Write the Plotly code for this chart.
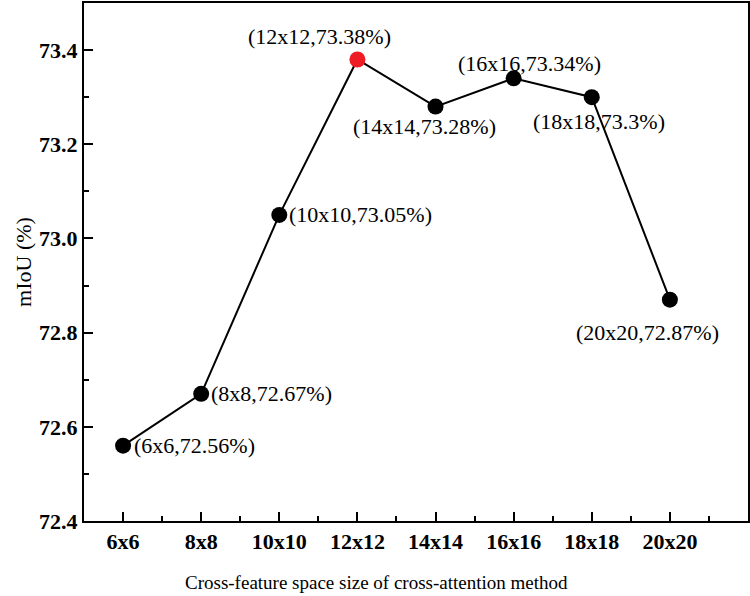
import plotly.graph_objects as go

sizes = ["6x6", "8x8", "10x10", "12x12", "14x14", "16x16", "18x18", "20x20"]
side = [6, 8, 10, 12, 14, 16, 18, 20]
miou = [72.56, 72.67, 73.05, 73.38, 73.28, 73.34, 73.30, 72.87]
labels = ["(6x6,72.56%)", "(8x8,72.67%)", "(10x10,73.05%)", "(12x12,73.38%)",
          "(14x14,73.28%)", "(16x16,73.34%)", "(18x18,73.3%)", "(20x20,72.87%)"]

best = miou.index(max(miou))
colors = ["#ee1c24" if i == best else "black" for i in range(len(miou))]

# label placement (anchor, xshift, yshift) per point
place = [("left", 9, 0), ("left", 8, 0), ("left", 8, 0), ("center", -38, 23),
         ("center", -11, -20), ("center", 16, 15), ("center", 7, -24), ("center", -22, -33)]

font = "Liberation Serif, Times New Roman, serif"

fig = go.Figure()
fig.add_trace(go.Scatter(
    x=side, y=miou, mode="lines+markers",
    line=dict(color="black", width=2),
    marker=dict(size=16, color=colors),
))

for x, y, t, (anc, dx, dy) in zip(side, miou, labels, place):
    fig.add_annotation(x=x, y=y, text=t, showarrow=False, xanchor=anc, yanchor="middle",
                       xshift=dx, yshift=dy, font=dict(family=font, size=22, color="black"))

# x title sits centred on the whole figure, not on the plot area
fig.add_annotation(xref="paper", yref="paper", x=0.44, y=0, yshift=-61,
                   xanchor="center", yanchor="middle", showarrow=False,
                   text="Cross-feature space size of cross-attention method",
                   font=dict(family=font, size=19, color="black"))

fig.update_layout(
    width=750, height=596,
    margin=dict(l=84, r=2, t=3, b=75),
    paper_bgcolor="white", plot_bgcolor="white",
    showlegend=False,
    font=dict(family=font, color="black"),
    xaxis=dict(
        range=[5, 22], tickvals=side, ticktext=sizes,
        ticks="inside", ticklen=9, tickwidth=2, tickcolor="black",
        minor=dict(tickvals=[s + 1 for s in side], ticks="inside", ticklen=5, tickwidth=2, tickcolor="black"),
        showline=True, linecolor="black", linewidth=2, mirror=True,
        showgrid=False, zeroline=False, automargin=False,
        tickfont=dict(family=font, size=22, color="black", weight="bold"),
    ),
    yaxis=dict(
        range=[72.4, 73.5], tickvals=[72.4, 72.6, 72.8, 73.0, 73.2, 73.4],
        tickformat=".1f",
        ticks="inside", ticklen=9, tickwidth=2, tickcolor="black",
        minor=dict(dtick=0.1, ticks="inside", ticklen=5, tickwidth=2, tickcolor="black"),
        showline=True, linecolor="black", linewidth=2, mirror=True,
        showgrid=False, zeroline=False, automargin=False,
        tickfont=dict(family=font, size=22, color="black", weight="bold"),
        title=dict(text="mIoU (%)", font=dict(family=font, size=22, color="black"), standoff=1),
    ),
)

# drop the default 8px body margin so the figure fills the window
fig.write_html("out.html", config={"displayModeBar": False},
               post_script="document.body.style.margin='0';")
